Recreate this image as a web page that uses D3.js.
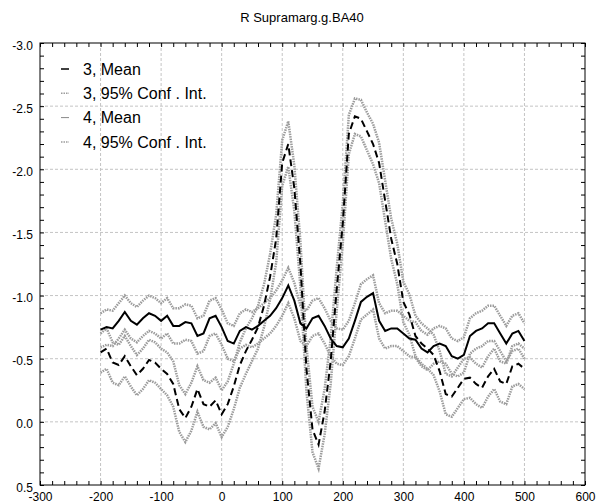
<!DOCTYPE html>
<html>
<head>
<meta charset="utf-8">
<script src="https://cdn.jsdelivr.net/npm/d3@7"></script>
<style>
  body { margin: 0; background: #fff; }
  svg { display: block; font-family: "Liberation Sans", Arial, sans-serif; }
  .grid line { stroke: #c4c4c4; stroke-dasharray: 3,2; }
  .ci { fill: none; stroke: #9c9c9c; stroke-width: 2.5; stroke-dasharray: 1.5,1; }
</style>
</head>
<body>
<div id="chart"></div>
<script>
// time in samples, -200 .. 500 step 10
var times = d3.range(-200, 501, 10);

var mean3 = [-0.73, -0.75, -0.74, -0.80, -0.87, -0.80, -0.77, -0.82, -0.86, -0.84,
  -0.80, -0.84, -0.76, -0.76, -0.79, -0.78, -0.68, -0.70, -0.82, -0.84,
  -0.75, -0.64, -0.62, -0.72, -0.75, -0.73, -0.76, -0.80, -0.84, -0.90,
  -0.98, -1.08, -0.96, -0.78, -0.74, -0.82, -0.84, -0.76, -0.66, -0.60,
  -0.59, -0.66, -0.80, -0.95, -0.99, -1.02, -0.80, -0.72, -0.74, -0.74,
  -0.70, -0.66, -0.65, -0.58, -0.55, -0.60, -0.62, -0.60, -0.52, -0.50,
  -0.53, -0.68, -0.72, -0.74, -0.78, -0.78, -0.70, -0.62, -0.70, -0.72, -0.64];

var ciHi3 = [-0.86, -0.89, -0.88, -0.94, -1.00, -0.94, -0.91, -0.96, -1.00, -0.98,
  -0.94, -0.98, -0.90, -0.90, -0.93, -0.92, -0.82, -0.84, -0.96, -0.98,
  -0.89, -0.78, -0.76, -0.86, -0.89, -0.87, -0.90, -0.94, -0.98, -1.04,
  -1.12, -1.22, -1.10, -0.92, -0.88, -0.96, -0.98, -0.90, -0.80, -0.74,
  -0.73, -0.80, -0.94, -1.09, -1.13, -1.16, -0.94, -0.86, -0.88, -0.88,
  -0.84, -0.80, -0.79, -0.72, -0.69, -0.74, -0.76, -0.74, -0.66, -0.64,
  -0.67, -0.82, -0.86, -0.88, -0.92, -0.92, -0.84, -0.76, -0.84, -0.86, -0.78];

var ciLo3 = [-0.59, -0.61, -0.60, -0.66, -0.73, -0.66, -0.63, -0.68, -0.72, -0.70,
  -0.66, -0.70, -0.62, -0.62, -0.65, -0.64, -0.54, -0.56, -0.68, -0.70,
  -0.61, -0.50, -0.48, -0.58, -0.61, -0.59, -0.62, -0.66, -0.70, -0.76,
  -0.84, -0.94, -0.82, -0.64, -0.60, -0.68, -0.70, -0.62, -0.52, -0.46,
  -0.45, -0.52, -0.66, -0.81, -0.85, -0.89, -0.66, -0.58, -0.60, -0.60,
  -0.56, -0.52, -0.51, -0.44, -0.41, -0.46, -0.48, -0.46, -0.38, -0.36,
  -0.39, -0.54, -0.58, -0.60, -0.64, -0.64, -0.56, -0.48, -0.56, -0.58, -0.50];

var mean4 = [-0.55, -0.58, -0.47, -0.45, -0.52, -0.44, -0.37, -0.42, -0.49, -0.47,
  -0.42, -0.38, -0.30, -0.10, -0.03, -0.12, -0.26, -0.14, -0.12, -0.17,
  -0.06, -0.14, -0.28, -0.45, -0.56, -0.65, -0.75, -0.92, -1.15, -1.45,
  -2.05, -2.20, -1.85, -1.25, -0.42, 0.06, 0.18, -0.08, -0.48, -1.05,
  -1.57, -2.28, -2.42, -2.40, -2.30, -2.20, -2.05, -1.75, -1.45, -1.25,
  -0.95, -0.85, -0.68, -0.62, -0.58, -0.53, -0.40, -0.22, -0.20, -0.27,
  -0.34, -0.35, -0.30, -0.27, -0.36, -0.42, -0.32, -0.30, -0.44, -0.46, -0.42];

var ciHi4 = [-0.70, -0.74, -0.63, -0.61, -0.68, -0.60, -0.53, -0.58, -0.65, -0.63,
  -0.58, -0.55, -0.48, -0.29, -0.22, -0.31, -0.44, -0.33, -0.31, -0.35,
  -0.25, -0.32, -0.46, -0.63, -0.74, -0.82, -0.92, -1.09, -1.33, -1.64,
  -2.23, -2.38, -2.03, -1.43, -0.60, -0.12, 0.00, -0.26, -0.66, -1.22,
  -1.73, -2.43, -2.56, -2.55, -2.45, -2.36, -2.21, -1.91, -1.61, -1.41,
  -1.11, -1.01, -0.84, -0.78, -0.74, -0.69, -0.56, -0.38, -0.36, -0.43,
  -0.50, -0.51, -0.46, -0.43, -0.52, -0.58, -0.48, -0.46, -0.60, -0.62, -0.58];

var ciLo4 = [-0.39, -0.42, -0.31, -0.29, -0.36, -0.28, -0.21, -0.26, -0.33, -0.31,
  -0.26, -0.21, -0.12, 0.08, 0.16, 0.07, -0.08, 0.04, 0.06, 0.01,
  0.12, 0.04, -0.10, -0.27, -0.38, -0.48, -0.58, -0.75, -0.97, -1.26,
  -1.87, -2.02, -1.67, -1.07, -0.24, 0.24, 0.37, 0.10, -0.30, -0.88,
  -1.41, -2.12, -2.28, -2.26, -2.15, -2.04, -1.89, -1.59, -1.29, -1.09,
  -0.79, -0.69, -0.52, -0.46, -0.42, -0.37, -0.24, -0.06, -0.04, -0.11,
  -0.18, -0.19, -0.14, -0.11, -0.20, -0.26, -0.16, -0.14, -0.28, -0.30, -0.26];

var xTicks = [-300, -200, -100, 0, 100, 200, 300, 400, 500, 600];
var yTicks = [-3.0, -2.5, -2.0, -1.5, -1.0, -0.5, 0.0, 0.5];
var legendLabels = ["3, Mean", "3, 95% Conf . Int.", "4, Mean", "4, 95% Conf . Int."];

var margin = { top: 43, right: 17, bottom: 19, left: 40 },
    width = 602 - margin.left - margin.right,
    height = 504 - margin.top - margin.bottom;

var x = d3.scaleLinear().domain([-300, 600]).range([0, width]);
var y = d3.scaleLinear().domain([-3, 0.5]).range([0, height]);

var svg = d3.select("#chart").append("svg").attr("width", 602).attr("height", 504);

svg.append("text").attr("x", 302).attr("y", 22).attr("text-anchor", "middle")
  .style("font-size", "13px").text("R Supramarg.g.BA40");

var g = svg.append("g").attr("transform", "translate(" + margin.left + "," + margin.top + ")");

// grid
g.append("g").attr("class", "grid").selectAll("line")
  .data(xTicks.slice(1, -1)).enter().append("line")
  .attr("x1", function (d) { return x(d); }).attr("x2", function (d) { return x(d); })
  .attr("y1", 0).attr("y2", height);
g.append("g").attr("class", "grid").selectAll("line")
  .data(yTicks.slice(1, -1)).enter().append("line")
  .attr("y1", function (d) { return y(d); }).attr("y2", function (d) { return y(d); })
  .attr("x1", 0).attr("x2", width);

// minor ticks, pointing inwards on all four sides
var xMinor = d3.range(-300, 601, 20), yMinor = d3.range(-30, 6).map(function (d) { return d / 10; });
function minor(sel) { sel.select(".domain").remove(); sel.selectAll("line").attr("stroke", "#000"); }
g.append("g").attr("transform", "translate(0," + height + ")")
  .call(d3.axisBottom(x).tickValues(xMinor).tickSize(-4).tickFormat("")).call(minor);
g.append("g").call(d3.axisTop(x).tickValues(xMinor).tickSize(-4).tickFormat("")).call(minor);
g.append("g").call(d3.axisLeft(y).tickValues(yMinor).tickSize(-4).tickFormat("")).call(minor);
g.append("g").attr("transform", "translate(" + width + ",0)")
  .call(d3.axisRight(y).tickValues(yMinor).tickSize(-4).tickFormat("")).call(minor);

// tick labels
var xAxis = g.append("g").attr("transform", "translate(0," + height + ")")
  .call(d3.axisBottom(x).tickValues(xTicks).tickSize(0).tickPadding(7).tickFormat(function (d) { return String(d); }));
var yAxis = g.append("g")
  .call(d3.axisLeft(y).tickValues(yTicks).tickSize(0).tickPadding(7).tickFormat(function (d) { return d.toFixed(1); }));
[xAxis, yAxis].forEach(function (a) {
  a.select(".domain").remove();
  a.selectAll("text").attr("fill", "#000").style("font-size", "12px").style("font-family", "'Liberation Sans', Arial, sans-serif");
});
yAxis.selectAll("text").attr("dy", "0.5em");

// lines
function line(vals) {
  return d3.line().x(function (d, i) { return x(times[i]); }).y(function (d) { return y(d); })(vals);
}
[ciHi3, ciLo3, ciHi4, ciLo4].forEach(function (s) {
  g.append("path").attr("class", "ci").attr("d", line(s));
});
g.append("path").attr("d", line(mean4)).attr("fill", "none").attr("stroke", "#000")
  .attr("stroke-width", 2).attr("stroke-dasharray", "7,4");
g.append("path").attr("d", line(mean3)).attr("fill", "none").attr("stroke", "#000")
  .attr("stroke-width", 2);

// frame
g.append("rect").attr("width", width).attr("height", height)
  .attr("fill", "none").attr("stroke", "#000");

// legend
var legend = svg.append("g").attr("transform", "translate(61,69)");
var styles = [
  { stroke: "#000", w: 1.5, dash: null },
  { stroke: "#9c9c9c", w: 1.5, dash: "1.5,1" },
  { stroke: "#888", w: 1, dash: null },
  { stroke: "#9c9c9c", w: 1.5, dash: "1.5,1" }
];
legendLabels.forEach(function (lab, i) {
  var row = legend.append("g").attr("transform", "translate(0," + i * 24.3 + ")");
  row.append("line").attr("x1", 0).attr("x2", 8).attr("y1", 0).attr("y2", 0)
    .attr("stroke", styles[i].stroke).attr("stroke-width", styles[i].w)
    .attr("stroke-dasharray", styles[i].dash);
  row.append("text").attr("x", 22).attr("y", 0).attr("dy", "0.36em")
    .style("font-size", "16px").text(lab);
});
</script>
</body>
</html>
